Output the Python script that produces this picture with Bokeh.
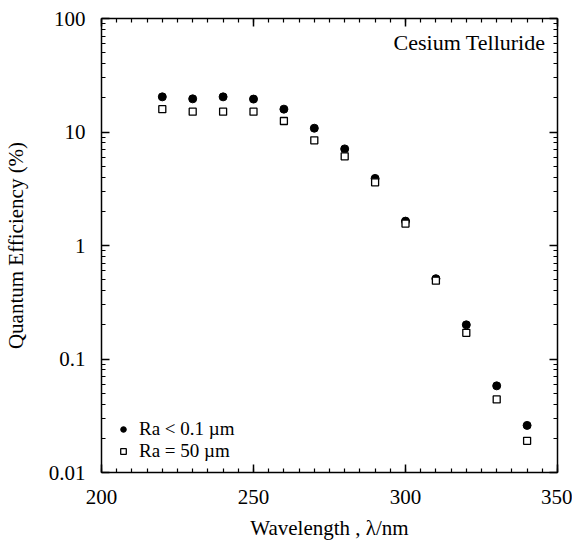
from bokeh.plotting import figure
from bokeh.models import (FixedTicker, LinearAxis, LogAxis, Legend, LegendItem,
                          Label, CustomJSTickFormatter)
from bokeh.embed import file_html
from bokeh.resources import INLINE

# ---- data ----
wavelength = [220, 230, 240, 250, 260, 270, 280, 290, 300, 310, 320, 330, 340]
qe_smooth = [20.4, 19.6, 20.4, 19.5, 15.9, 10.8, 7.1, 3.9, 1.64, 0.51, 0.20, 0.058, 0.026]
qe_rough = [15.9, 15.1, 15.1, 15.1, 12.5, 8.45, 6.1, 3.6, 1.56, 0.49, 0.17, 0.044, 0.019]
series_labels = ["Ra < 0.1 \u00b5m", "Ra = 50 \u00b5m"]
x_major = [200, 250, 300, 350]
y_major = [0.01, 0.1, 1, 10, 100]
x_title = "Wavelength , \u03bb/nm"
y_title = "Quantum Efficiency (%)"
note_text = "Cesium Telluride"

FONT = "Liberation Serif"

x_minor = list(range(200, 351, 5))
y_minor = [m * 10.0 ** e for e in range(-2, 2) for m in range(1, 10)]

p = figure(frame_width=456, frame_height=454,
           x_range=(200, 350), y_range=(0.01, 100), y_axis_type="log",
           output_backend="svg", toolbar_location=None,
           min_border_left=99, min_border_right=15, min_border_top=18,
           min_border_bottom=52)
p.background_fill_color = "white"
p.border_fill_color = "white"
p.outline_line_color = None
p.xgrid.visible = False
p.ygrid.visible = False

xt = FixedTicker(ticks=x_major, minor_ticks=x_minor)
yt = FixedTicker(ticks=y_major, minor_ticks=y_minor)
yfmt = CustomJSTickFormatter(code="return tick >= 1 ? tick.toFixed(0) : tick.toPrecision(1);")
blank = CustomJSTickFormatter(code="return '';")


def style_axis(ax, labels=True):
    ax.axis_line_color = "black"
    ax.axis_line_width = 1.5
    ax.major_tick_line_color = "black"
    ax.minor_tick_line_color = "black"
    ax.major_tick_line_width = 1.5
    ax.minor_tick_line_width = 1.2
    ax.major_tick_in = 8
    ax.major_tick_out = 0
    ax.minor_tick_in = 4
    ax.minor_tick_out = 0
    ax.major_label_text_font = FONT
    ax.major_label_text_color = "black"
    ax.axis_label_text_font = FONT
    ax.axis_label_text_font_style = "normal"
    ax.axis_label_text_color = "black"
    if labels:
        ax.major_label_text_font_size = "21px"
        ax.axis_label_text_font_size = "21px"
    else:
        ax.major_label_text_font_size = "0px"
        ax.major_label_standoff = 0


bx = p.xaxis[0]
bx.ticker = xt
style_axis(bx)
bx.major_label_standoff = 17
bx.axis_label = x_title
bx.axis_label_standoff = 9

ly = p.yaxis[0]
ly.ticker = yt
ly.formatter = yfmt
style_axis(ly)
ly.major_label_standoff = 16
ly.axis_label = y_title
ly.axis_label_standoff = 18

top = LinearAxis(ticker=xt, formatter=blank)
style_axis(top, labels=False)
p.add_layout(top, "above")

right = LogAxis(ticker=yt, formatter=blank)
style_axis(right, labels=False)
p.add_layout(right, "right")

r1 = p.scatter(wavelength, qe_smooth, marker="circle", size=8,
               fill_color="black", line_color="black", line_width=1)
r2 = p.scatter(wavelength, qe_rough, marker="square", size=7,
               fill_color="white", line_color="black", line_width=1.3)

legend = Legend(items=[LegendItem(label=series_labels[0], renderers=[r1]),
                       LegendItem(label=series_labels[1], renderers=[r2])],
                location=(15, 10))
legend.label_text_font = FONT
legend.label_text_font_size = "19px"
legend.label_text_color = "black"
legend.glyph_width = 14
legend.glyph_height = 20
legend.label_standoff = 9
legend.spacing = 0
legend.padding = 0
legend.margin = 0
legend.border_line_alpha = 0
legend.background_fill_alpha = 0
p.add_layout(legend)

p.add_layout(Label(x=346, y=61.4, text=note_text, text_align="right",
                   text_baseline="middle", text_font=FONT,
                   text_font_size="22px", text_color="black"))

open("out.html", "w").write(file_html(p, INLINE))
